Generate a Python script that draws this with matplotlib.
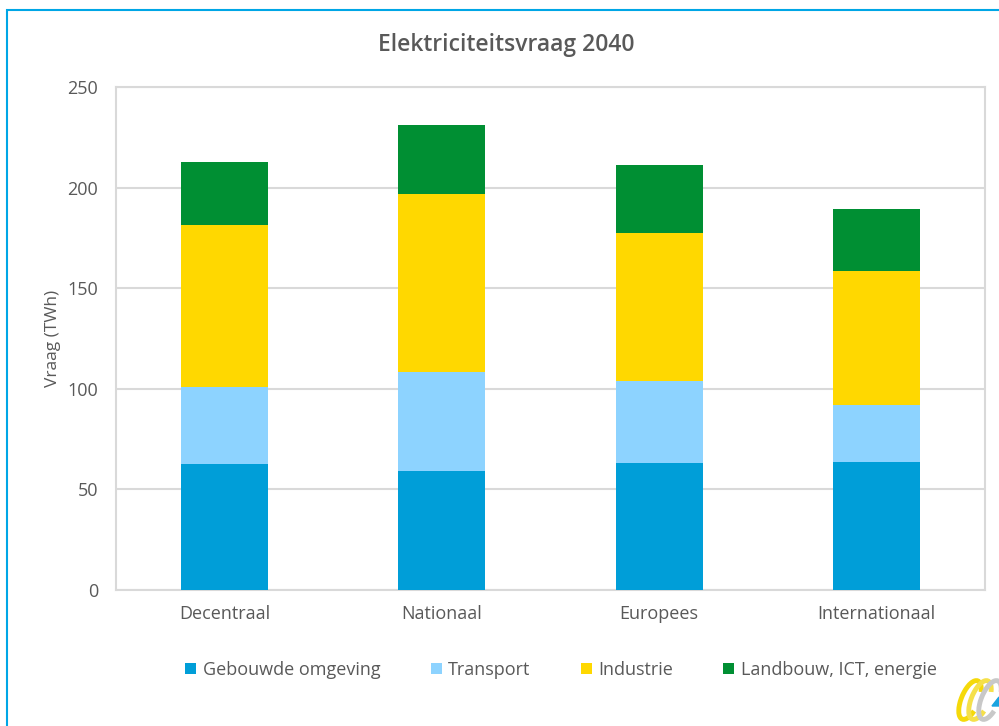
import matplotlib
matplotlib.use("Agg")
import matplotlib.pyplot as plt
from matplotlib.patches import Rectangle, Arc, Polygon
import numpy as np

categories = ["Decentraal", "Nationaal", "Europees", "Internationaal"]
series_names = ["Gebouwde omgeving", "Transport", "Industrie", "Landbouw, ICT, energie"]
gebouwde = [62.5, 59.1, 63.0, 63.5]
transport = [38.5, 49.4, 40.9, 28.4]
industrie = [80.4, 88.2, 73.4, 66.8]
landbouw = [31.3, 34.5, 33.9, 30.5]
colors = ["#009ED8", "#8DD3FF", "#FFD800", "#008F33"]
yticks = [0, 50, 100, 150, 200, 250]

TXT = "#595959"
FONT = ["Open Sans", "DejaVu Sans"]
plt.rcParams["font.family"] = FONT

fig = plt.figure(figsize=(9.99, 7.26), dpi=100)
ax = fig.add_axes([0.1161, 0.1873, 0.8699, 0.6928])

x = np.arange(len(categories))
bottom = np.zeros(len(categories))
for name, vals, c in zip(series_names, [gebouwde, transport, industrie, landbouw], colors):
    ax.bar(x, vals, width=0.40, bottom=bottom, color=c, label=name, zorder=3)
    bottom += np.array(vals)

ax.set_xlim(-0.5, len(categories) - 0.5)
ax.set_ylim(0, 250)
ax.set_yticks(yticks)
ax.set_yticklabels([str(t) for t in yticks])
ax.set_xticks(x)
ax.set_xticklabels(categories)
ax.tick_params(axis="both", length=0, labelsize=13, colors=TXT)
ax.tick_params(axis="y", pad=13)
ax.tick_params(axis="x", pad=11)
ax.grid(axis="y", color="#D9D9D9", linewidth=1.5, zorder=0)
for s in ax.spines.values():
    s.set_color("#D9D9D9")
    s.set_linewidth(1.5)

ax.set_ylabel("Vraag (TWh)", fontsize=12.5, color=TXT)
ax.yaxis.set_label_coords(-0.063, 0.5)

fig.text(0.5065, 0.938, "Elektriciteitsvraag 2040", ha="center", va="center",
         fontsize=16.5, color=TXT, fontweight="semibold")

leg = fig.legend(loc="center", bbox_to_anchor=(0.5616, 0.077), ncol=4, frameon=False,
                 fontsize=13, handlelength=0.6, handleheight=0.6, handletextpad=0.35,
                 columnspacing=2.8)
for t in leg.get_texts():
    t.set_color(TXT)

# figure border
fig.patches.append(Rectangle((0.007, -0.05), 1.1, 1.036, transform=fig.transFigure,
                             fill=False, edgecolor="#00A6E6", linewidth=1.5))

# small logo (decorative) at bottom right
W, H = 999.0, 726.0
for cx, col in [(970, "#F5D90A"), (980, "#F5E04A"), (990, "#C8C8C8")]:
    fig.patches.append(Arc((cx / W, 1 - 700 / H), 18 / W, 40 / H, angle=-15,
                           theta1=60, theta2=300, transform=fig.transFigure,
                           color=col, linewidth=3.5))
fig.patches.append(Polygon([(992 / W, 1 - 706 / H), (999 / W, 1 - 697 / H), (999 / W, 1 - 706 / H)],
                           closed=True, transform=fig.transFigure, color="#1AA3E0"))

fig.savefig("out.png", dpi=100, facecolor="white")
